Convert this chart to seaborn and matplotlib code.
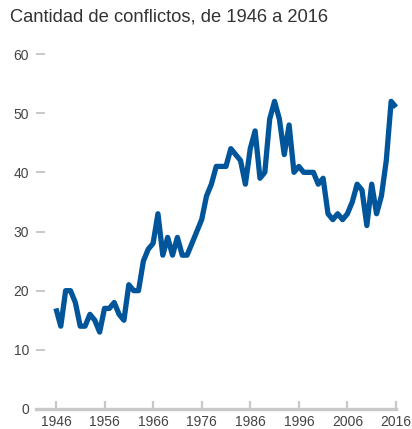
import numpy as np
import pandas as pd
import seaborn as sns
import matplotlib.pyplot as plt

# ---------- data ----------
years = list(range(1946, 2017))
conflicts = [
    17, 14, 20, 20, 18, 14, 14, 16, 15, 13,   # 1946-1955
    17, 17, 18, 16, 15, 21, 20, 20, 25, 27,   # 1956-1965
    28, 33, 26, 29, 26, 29, 26, 26, 28, 30,   # 1966-1975
    32, 36, 38, 41, 41, 41, 44, 43, 42, 38,   # 1976-1985
    44, 47, 39, 40, 49, 52, 49, 43, 48, 40,   # 1986-1995
    41, 40, 40, 40, 38, 39, 33, 32, 33, 32,   # 1996-2005
    33, 35, 38, 37, 31, 38, 33, 36, 42, 52,   # 2006-2015
    51,                                       # 2016
]
x_ticks = list(range(1946, 2017, 10))
y_ticks = [0, 10, 20, 30, 40, 50, 60]
title = "Cantidad de conflictos, de 1946 a 2016"

df = pd.DataFrame({"year": years, "conflicts": conflicts})

# ---------- style ----------
sns.set_style("white")
plt.rcParams["font.family"] = ["Liberation Sans", "DejaVu Sans"]

W, H = 412, 429
fig = plt.figure(figsize=(W / 100, H / 100), dpi=100)
ax = fig.add_axes([36 / W, (H - 409) / H, 360 / W, 355 / H])

sns.lineplot(data=df, x="year", y="conflicts", ax=ax,
             color="#00559b", linewidth=3.8, clip_on=False,
             solid_joinstyle="round", solid_capstyle="butt")

ax.set_xlim(1941.9, 2016)
ax.set_ylim(0, 60)
ax.set_xticks(x_ticks)
ax.set_yticks(y_ticks)
ax.set_xlabel("")
ax.set_ylabel("")

for s in ["left", "right", "top"]:
    ax.spines[s].set_visible(False)
ax.spines["bottom"].set_color("#c8c8c8")
ax.spines["bottom"].set_linewidth(2.4)
ax.spines["bottom"].set_zorder(0)

ax.tick_params(axis="x", direction="in", length=6, width=1.6,
               color="#c8c8c8", labelsize=10, labelcolor="#444444", pad=4)
ax.tick_params(axis="y", direction="in", length=6.5, width=1.4,
               color="#c8c8c8", labelsize=10, labelcolor="#444444", pad=5)
ax.tick_params(axis="y", left=True)
ax.tick_params(axis="x", bottom=True)

fig.text(10 / W, 1 - 9 / H, title, ha="left", va="top",
         fontsize=13.2, color="#333333")

fig.savefig("out.png", dpi=100)
